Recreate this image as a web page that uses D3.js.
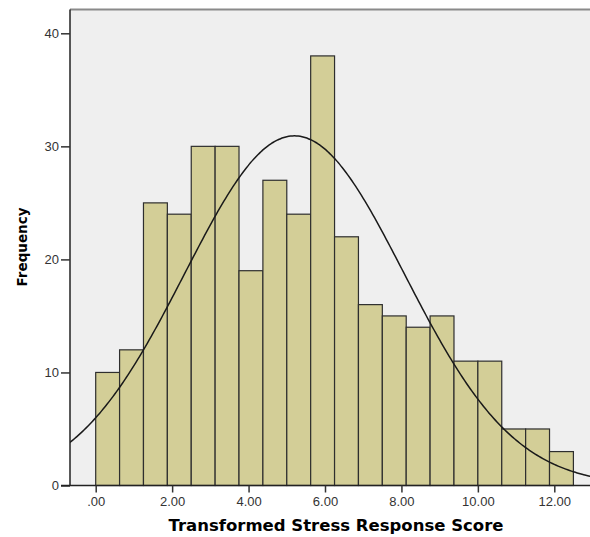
<!DOCTYPE html>
<html lang="en">
<head>
<meta charset="UTF-8">
<title>Transformed Stress Response Score</title>
<script src="https://d3js.org/d3.v7.min.js"></script>
<style>
    body { margin: 0; background: #fff; }
    svg { display: block; font-family: "DejaVu Sans", Verdana, sans-serif; }
    .tick text { fill: #333; font-size: 13px; }
    .axis-title { font-weight: bold; fill: #000; }
</style>
</head>
<body>
<div id="chart"></div>
<script>
    // histogram bins (lower edge) and frequencies
    const binStarts = [0, 0.625, 1.25, 1.875, 2.5, 3.125, 3.75, 4.375, 5, 5.625,
                       6.25, 6.875, 7.5, 8.125, 8.75, 9.375, 10, 10.625, 11.25, 11.875];
    const binWidth = 0.625;
    const counts = [10, 12, 25, 24, 30, 30, 19, 27, 24, 38,
                    22, 16, 15, 14, 15, 11, 11, 5, 5, 3];
    const xTicks = [0, 2, 4, 6, 8, 10, 12];
    const yTicks = [0, 10, 20, 30, 40];

    // fitted normal curve
    const mean = 5.2;
    const sd = 2.87;
    const n = 356;

    const width = 590, height = 537;
    const plot = { left: 70, top: 9.5, right: 600, bottom: 485.5 };

    const x = d3.scaleLinear().domain([0, 12]).range([95.7, 554.3]);
    const y = d3.scaleLinear().domain([0, 40]).range([485.5, 33.3]);

    const svg = d3.select("#chart").append("svg")
        .attr("width", width)
        .attr("height", height);

    svg.append("defs").append("clipPath").attr("id", "clip")
        .append("rect")
        .attr("x", plot.left).attr("y", plot.top)
        .attr("width", plot.right - plot.left)
        .attr("height", plot.bottom - plot.top);

    // plot background
    svg.append("rect")
        .attr("x", plot.left).attr("y", plot.top)
        .attr("width", plot.right - plot.left)
        .attr("height", plot.bottom - plot.top)
        .attr("fill", "#efefef");

    // top border
    svg.append("line")
        .attr("x1", plot.left).attr("x2", plot.right)
        .attr("y1", plot.top).attr("y2", plot.top)
        .attr("stroke", "#8a8a8a").attr("stroke-width", 2);

    // bars
    svg.append("g").selectAll("rect")
        .data(counts)
        .enter()
        .append("rect")
        .attr("x", (d, i) => x(binStarts[i]))
        .attr("y", d => y(d))
        .attr("width", (d, i) => x(binStarts[i] + binWidth) - x(binStarts[i]))
        .attr("height", d => y(0) - y(d))
        .attr("fill", "#d3ce97")
        .attr("stroke", "#2e2e2e")
        .attr("stroke-width", 1.2);

    // normal curve
    const peak = n * binWidth / (sd * Math.sqrt(2 * Math.PI));
    const curvePts = d3.range(-1, 14, 0.05).map(v => [v, peak * Math.exp(-((v - mean) ** 2) / (2 * sd * sd))]);
    svg.append("path")
        .datum(curvePts)
        .attr("clip-path", "url(#clip)")
        .attr("fill", "none")
        .attr("stroke", "#1a1a1a")
        .attr("stroke-width", 1.5)
        .attr("d", d3.line().x(d => x(d[0])).y(d => y(d[1])).curve(d3.curveBasis));

    // y axis
    const yAxis = svg.append("g")
        .attr("transform", "translate(" + plot.left + ",0)")
        .call(d3.axisLeft(y).tickValues(yTicks).tickSize(9).tickPadding(2).tickFormat(d3.format("d")));
    yAxis.select(".domain").attr("d", "M0," + plot.top + "V" + plot.bottom).attr("stroke", "#222").attr("stroke-width", 1.5);
    yAxis.selectAll(".tick line").attr("stroke", "#333").attr("stroke-width", 1.5);

    // x axis
    const xAxis = svg.append("g")
        .attr("transform", "translate(0," + plot.bottom + ")")
        .call(d3.axisBottom(x).tickValues(xTicks).tickSize(7).tickPadding(4)
            .tickFormat(d => d === 0 ? ".00" : d3.format(".2f")(d)));
    xAxis.select(".domain").attr("d", "M" + (plot.left - 9) + ",0H" + plot.right).attr("stroke", "#222").attr("stroke-width", 1.5);
    xAxis.selectAll(".tick line").attr("stroke", "#333").attr("stroke-width", 1.5);

    // axis titles
    svg.append("text")
        .attr("class", "axis-title")
        .attr("x", 336).attr("y", 531)
        .attr("text-anchor", "middle")
        .style("font-size", "16.5px")
        .text("Transformed Stress Response Score");

    svg.append("text")
        .attr("class", "axis-title")
        .attr("transform", "translate(27,247) rotate(-90)")
        .attr("text-anchor", "middle")
        .style("font-size", "13.5px")
        .text("Frequency");
</script>
</body>
</html>
